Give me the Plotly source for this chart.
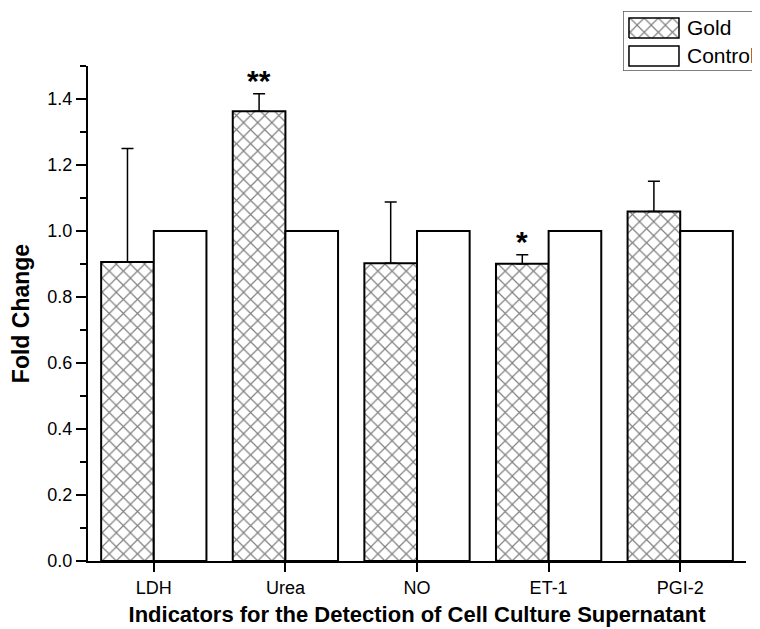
import plotly.graph_objects as go

categories = ["LDH", "Urea", "NO", "ET-1", "PGI-2"]
gold_values = [0.906, 1.363, 0.902, 0.901, 1.059]
gold_err_upper = [0.344, 0.053, 0.186, 0.027, 0.092]
control_values = [1.0, 1.0, 1.0, 1.0, 1.0]
significance = ["", "**", "", "*", ""]
y_ticks = [0.0, 0.2, 0.4, 0.6, 0.8, 1.0, 1.2, 1.4]
legend_names = ["Gold", "Control"]

FONT = "Liberation Sans, Arial, sans-serif"
HATCH = dict(shape="x", fgcolor="black", bgcolor="white", size=10, solidity=0.22)

fig = go.Figure()
fig.add_trace(go.Bar(
    name=legend_names[0], x=categories, y=gold_values, showlegend=False,
    marker=dict(color="white", line=dict(color="black", width=2), pattern=HATCH),
    error_y=dict(type="data", array=gold_err_upper, arrayminus=[0] * len(categories),
                 symmetric=False, color="black", thickness=1.5, width=6),
))
fig.add_trace(go.Bar(
    name=legend_names[1], x=categories, y=control_values, showlegend=False,
    marker=dict(color="white", line=dict(color="black", width=2)),
))

for i, s in enumerate(significance):
    if s:
        fig.add_annotation(x=i - 0.2, y=gold_values[i] + gold_err_upper[i], text=f"<b>{s}</b>",
                           showarrow=False, yanchor="bottom", yshift=-5,
                           font=dict(family=FONT, size=30, color="black"))

# ---- custom legend drawn in its own small hidden axes (units ~ pixels) ----
LEG_W, LEG_H = 137, 60
fig.add_trace(go.Scatter(
    x=[6, 56, 56, 6, 6], y=[33, 33, 53, 53, 33], xaxis="x2", yaxis="y2",
    mode="lines", fill="toself", fillcolor="white", fillpattern=HATCH,
    line=dict(color="black", width=1.5), hoverinfo="skip", showlegend=False,
))
fig.add_shape(type="rect", xref="x2", yref="y2", x0=0, x1=LEG_W + 20, y0=0, y1=LEG_H,
              line=dict(color="#555555", width=1.5), fillcolor="rgba(0,0,0,0)", layer="below")
fig.add_shape(type="rect", xref="x2", yref="y2", x0=6, x1=56, y0=5, y1=25,
              line=dict(color="black", width=1.5), fillcolor="white")
for name, ty in zip(legend_names, [43, 15]):
    fig.add_annotation(xref="x2", yref="y2", x=62, y=ty, text=name, showarrow=False,
                       xanchor="left", yanchor="middle",
                       font=dict(family=FONT, size=21, color="black"))

fig.update_layout(
    width=752, height=621,
    margin=dict(l=80, r=0, t=0, b=68, autoexpand=False),
    paper_bgcolor="white", plot_bgcolor="rgba(0,0,0,0)",
    barmode="group", bargap=0.2, bargroupgap=0,
    font=dict(family=FONT, size=18, color="black"),
    showlegend=False,
    xaxis=dict(
        domain=[0, 0.9792], range=[-0.5, 4.5], showline=True, linecolor="black", linewidth=2,
        ticks="outside", tickcolor="black", tickwidth=2, ticklen=9,
        showgrid=False, zeroline=False,
        tickfont=dict(family=FONT, size=18, color="black"),
        title=dict(text="<b>Indicators for the Detection of Cell Culture Supernatant</b>",
                   font=dict(family=FONT, size=22, color="black"), standoff=10),
    ),
    yaxis=dict(
        domain=[0, 0.8951], range=[0, 1.5], showline=True, linecolor="black", linewidth=2,
        tickvals=y_ticks, ticktext=[f"{v:.1f}" for v in y_ticks],
        ticks="outside", tickcolor="black", tickwidth=2, ticklen=10,
        minor=dict(dtick=0.1, ticks="outside", ticklen=6, tickcolor="black", tickwidth=2, showgrid=False),
        showgrid=False, zeroline=False,
        tickfont=dict(family=FONT, size=18, color="black"),
        title=dict(text="<b>Fold Change</b>", font=dict(family=FONT, size=23, color="black"), standoff=12),
    ),
    xaxis2=dict(domain=[0.7961, 1.0], range=[0, LEG_W], visible=False, anchor="y2", fixedrange=True),
    yaxis2=dict(domain=[0.8861, 0.9946], range=[0, LEG_H], visible=False, anchor="x2", fixedrange=True),
)

fig.write_html("out.html")
